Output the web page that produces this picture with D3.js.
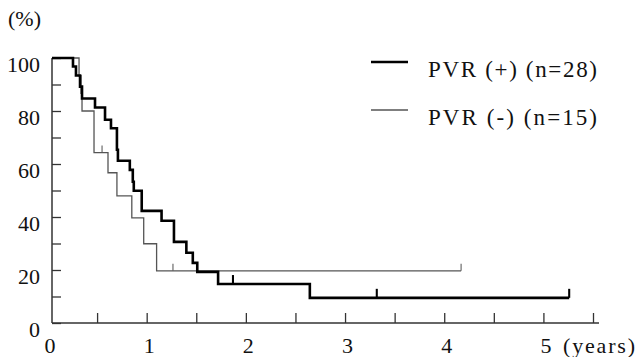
<!DOCTYPE html>
<html>
<head>
<meta charset="utf-8">
<script src="https://cdn.jsdelivr.net/npm/d3@7"></script>
<style>
  body { margin: 0; background: #fff; }
  svg { display: block; }
  text { font-family: "Times New Roman", Times, "Liberation Serif", Tinos, "DejaVu Serif", serif; fill: #111; }
</style>
</head>
<body>
<div id="chart"></div>
<script>
// PVR (+), n=28 : step times (years) and survival (%) after each step
const plusTime = [0, 0.257, 0.287, 0.328, 0.348, 0.479, 0.58, 0.64, 0.70, 0.71, 0.83, 0.86, 0.87, 0.95, 1.15, 1.275, 1.40, 1.465, 1.51, 1.72, 2.645];
const plusSurv = [100, 96.8, 93.4, 89.2, 84.7, 81.3, 76.7, 73.5, 65.4, 61.2, 57.8, 53.3, 49.9, 42.3, 38.6, 30.6, 26.5, 22.7, 19.3, 14.7, 9.5];
const plusEnd = 5.26;
const plusCensor = [1.87, 3.32, 5.26];

// PVR (-), n=15
const minusTime = [0, 0.318, 0.338, 0.348, 0.469, 0.61, 0.70, 0.85, 0.97, 1.10];
const minusSurv = [100, 93.3, 86.7, 80, 64.3, 56.7, 48.0, 39.7, 29.9, 19.7];
const minusEnd = 4.17;
const minusCensor = [0.55, 1.265, 4.17];

const xTicks = [0, 0.5, 1, 1.5, 2, 2.5, 3, 3.5, 4, 4.5, 5, 5.5];
const xLabels = [0, 1, 2, 3, 4, 5];
const yTicks = [0, 10, 20, 30, 40, 50, 60, 70, 80, 90, 100];
const yLabels = [0, 20, 40, 60, 80, 100];

const legendNames = ['PVR (+) (n=28)', 'PVR (-) (n=15)'];

const width = 636, height = 357;
const axisX = 52, axisY = 323;

const svg = d3.select('#chart').append('svg')
    .attr('width', width)
    .attr('height', height);

const x = d3.scaleLinear().domain([0, 5.5]).range([47.5, 593]);
const y = d3.scaleLinear().domain([0, 100]).range([axisY, 58]);

// y axis
const yAxis = d3.axisLeft(y)
    .tickValues(yTicks)
    .tickSize(-9)
    .tickSizeOuter(0)
    .tickPadding(12)
    .tickFormat(d => yLabels.includes(d) ? d : '');

const gy = svg.append('g')
    .attr('transform', `translate(${axisX},0)`)
    .call(yAxis);
gy.attr('font-family', null);
gy.select('.domain').remove();
gy.selectAll('.tick line').attr('stroke', '#333').attr('stroke-width', 1.3);
gy.selectAll('.tick text')
    .attr('font-size', 22)
    .attr('fill', '#111')
    .attr('dy', '0.62em');

// x axis
const xAxis = d3.axisBottom(x)
    .tickValues(xTicks)
    .tickSize(-10)
    .tickSizeOuter(0)
    .tickPadding(14)
    .tickFormat(d => xLabels.includes(d) ? d : '');

const gx = svg.append('g')
    .attr('transform', `translate(0,${axisY})`)
    .call(xAxis);
gx.attr('font-family', null);
gx.select('.domain').remove();
gx.selectAll('.tick line')
    .attr('stroke', '#333')
    .attr('stroke-width', 1.3)
    .style('display', d => d === 0 ? 'none' : null);
gx.selectAll('.tick text')
    .attr('font-size', 22)
    .attr('fill', '#111')
    .attr('dx', 2);

// axis lines
svg.append('line')
    .attr('x1', axisX).attr('x2', axisX)
    .attr('y1', y(100)).attr('y2', axisY)
    .attr('stroke', '#333').attr('stroke-width', 1.5);
svg.append('line')
    .attr('x1', axisX).attr('x2', 599)
    .attr('y1', axisY).attr('y2', axisY)
    .attr('stroke', '#333').attr('stroke-width', 1.5);

svg.append('text')
    .attr('x', 8).attr('y', 26)
    .attr('font-size', 22)
    .text('(%)');

svg.append('text')
    .attr('x', 563).attr('y', 353)
    .attr('font-size', 22)
    .attr('textLength', 72)
    .attr('lengthAdjust', 'spacing')
    .text('(years)');

// step curves
function stepPoints(times, surv, end) {
    const pts = times.map((t, i) => [Math.max(x(t), axisX), y(surv[i])]);
    pts.push([x(end), y(surv[surv.length - 1])]);
    return pts;
}

function survAt(times, surv, t) {
    const i = d3.bisectRight(times, t) - 1;
    return surv[Math.max(i, 0)];
}

const stepLine = d3.line().curve(d3.curveStepAfter);

const series = [
    { time: plusTime, surv: plusSurv, end: plusEnd, censor: plusCensor, color: '#000', w: 2.6, tick: 9 },
    { time: minusTime, surv: minusSurv, end: minusEnd, censor: minusCensor, color: '#555', w: 1.3, tick: 7 }
];

// draw thin first so the thick curve sits on top
series.slice().reverse().forEach(s => {
    svg.append('path')
        .attr('d', stepLine(stepPoints(s.time, s.surv, s.end)))
        .attr('fill', 'none')
        .attr('stroke', s.color)
        .attr('stroke-width', s.w)
        .attr('stroke-linejoin', 'miter');

    svg.selectAll(null)
        .data(s.censor)
        .join('line')
        .attr('x1', d => x(d)).attr('x2', d => x(d))
        .attr('y1', d => y(survAt(s.time, s.surv, d)))
        .attr('y2', d => y(survAt(s.time, s.surv, d)) - s.tick)
        .attr('stroke', s.color)
        .attr('stroke-width', s.w * 0.8);
});

// legend
const legend = svg.append('g');
series.forEach((s, i) => {
    const ly = 62 + i * 48;
    legend.append('line')
        .attr('x1', 371).attr('x2', 408)
        .attr('y1', ly).attr('y2', ly)
        .attr('stroke', s.color)
        .attr('stroke-width', s.w);
    legend.append('text')
        .attr('x', 428).attr('y', ly + 15)
        .attr('font-size', 23)
        .attr('textLength', 169)
        .attr('lengthAdjust', 'spacing')
        .text(legendNames[i]);
});
</script>
</body>
</html>
